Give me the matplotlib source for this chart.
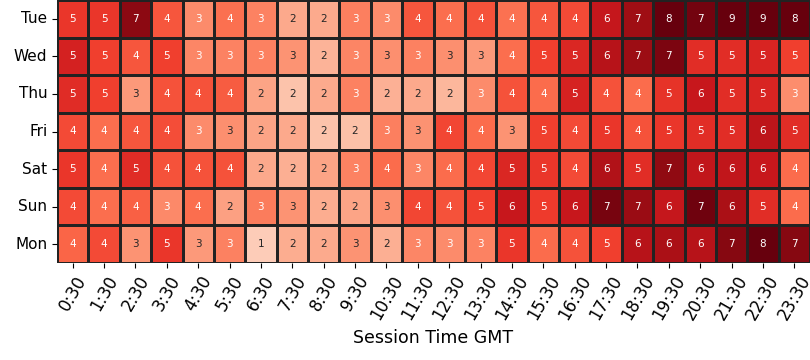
import matplotlib
matplotlib.use("Agg")
import matplotlib.pyplot as plt
import seaborn as sns
import numpy as np
import pandas as pd

days = ["Tue", "Wed", "Thu", "Fri", "Sat", "Sun", "Mon"]
times = [f"{h}:30" for h in range(24)]

tue = [4.8, 4.8, 7.0, 4.1, 2.9, 3.55, 3.1, 2.2, 2.15, 3.2, 2.9, 4.1,
       3.6, 4.2, 3.52, 4.1, 4.35, 5.8, 6.7, 8.0, 7.4, 9.0, 9.0, 8.0]
wed = [5.4, 4.6, 4.1, 4.6, 3.0, 3.1, 3.15, 2.7, 1.95, 3.05, 2.8, 3.15,
       2.8, 2.55, 3.6, 4.6, 5.25, 6.15, 6.75, 7.25, 5.05, 5.05, 5.3, 4.6]
thu = [5.1, 4.6, 2.55, 4.2, 4.2, 4.0, 2.3, 1.55, 2.15, 3.15, 2.0, 2.2,
       1.85, 2.9, 4.2, 3.65, 5.35, 4.2, 3.65, 4.9, 5.75, 5.05, 5.3, 2.85]
fri = [4.35, 3.6, 4.1, 4.3, 2.9, 2.8, 2.3, 2.2, 1.55, 1.6, 3.2, 2.75,
       4.45, 3.65, 2.7, 4.6, 4.35, 4.8, 4.2, 4.8, 5.05, 5.05, 6.0, 5.05]
sat = [4.8, 3.6, 5.1, 4.2, 4.2, 4.2, 2.2, 2.05, 2.3, 3.1, 3.65, 3.0,
       3.65, 4.45, 5.25, 4.8, 4.35, 6.3, 5.05, 6.95, 5.9, 5.9, 5.75, 3.65]
sun = [4.35, 3.6, 3.9, 2.95, 3.6, 2.4, 3.25, 2.7, 2.1, 2.3, 2.8, 4.45,
       4.2, 4.6, 5.75, 4.7, 5.75, 7.35, 6.8, 5.8, 7.45, 6.45, 5.05, 3.65]
mon = [3.8, 4.35, 2.7, 4.8, 2.55, 3.15, 1.3, 2.1, 2.15, 2.7, 2.05, 3.0,
       2.9, 3.1, 4.8, 3.65, 4.2, 4.6, 6.15, 6.45, 6.15, 7.1, 8.0, 7.1]

df = pd.DataFrame([tue, wed, thu, fri, sat, sun, mon], index=days, columns=times)

fig = plt.figure(figsize=(8.1, 3.6), dpi=100)
ax = fig.add_axes([57 / 810, 97 / 360, 753 / 810, 263 / 360])
sns.heatmap(df, ax=ax, cmap="Reds", vmin=-0.2, vmax=7.6, annot=True, fmt=".0f",
            annot_kws={"fontsize": 7.5}, linewidths=1, linecolor="#222222",
            cbar=False)
ax.set_xticklabels(times, rotation=60, fontsize=12)
ax.set_yticklabels(days, rotation=0, fontsize=11)
ax.set_xlabel("Session Time GMT", fontsize=12.5)
ax.set_ylabel("")
fig.savefig("out.png", dpi=100)
